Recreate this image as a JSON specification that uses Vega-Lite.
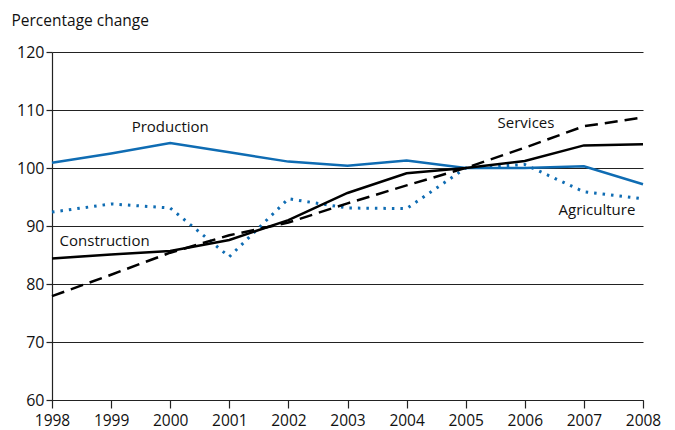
{
  "$schema": "https://vega.github.io/schema/vega-lite/v6.json",
  "width": 591,
  "height": 348,
  "autosize": {"type": "none"},
  "padding": {"left": 52, "top": 52, "right": 32, "bottom": 30},
  "background": "white",
  "config": {
    "view": {"stroke": null},
    "font": "Open Sans",
    "axis": {"labelFont": "Open Sans", "titleFont": "Open Sans", "labelColor": "#111", "titleColor": "#111"}
  },
  "datasets": {
    "series": [
      {"year": 1998, "sector": "Production", "value": 100.9},
      {"year": 1999, "sector": "Production", "value": 102.5},
      {"year": 2000, "sector": "Production", "value": 104.3},
      {"year": 2001, "sector": "Production", "value": 102.7},
      {"year": 2002, "sector": "Production", "value": 101.1},
      {"year": 2003, "sector": "Production", "value": 100.4},
      {"year": 2004, "sector": "Production", "value": 101.3},
      {"year": 2005, "sector": "Production", "value": 100.0},
      {"year": 2006, "sector": "Production", "value": 100.0},
      {"year": 2007, "sector": "Production", "value": 100.3},
      {"year": 2008, "sector": "Production", "value": 97.2},
      {"year": 1998, "sector": "Services", "value": 77.9},
      {"year": 1999, "sector": "Services", "value": 81.6},
      {"year": 2000, "sector": "Services", "value": 85.4},
      {"year": 2001, "sector": "Services", "value": 88.4},
      {"year": 2002, "sector": "Services", "value": 90.6},
      {"year": 2003, "sector": "Services", "value": 93.9},
      {"year": 2004, "sector": "Services", "value": 97.0},
      {"year": 2005, "sector": "Services", "value": 100.0},
      {"year": 2006, "sector": "Services", "value": 103.5},
      {"year": 2007, "sector": "Services", "value": 107.2},
      {"year": 2008, "sector": "Services", "value": 108.7},
      {"year": 1998, "sector": "Construction", "value": 84.4},
      {"year": 1999, "sector": "Construction", "value": 85.1},
      {"year": 2000, "sector": "Construction", "value": 85.7},
      {"year": 2001, "sector": "Construction", "value": 87.6},
      {"year": 2002, "sector": "Construction", "value": 91.0},
      {"year": 2003, "sector": "Construction", "value": 95.7},
      {"year": 2004, "sector": "Construction", "value": 99.1},
      {"year": 2005, "sector": "Construction", "value": 100.0},
      {"year": 2006, "sector": "Construction", "value": 101.2},
      {"year": 2007, "sector": "Construction", "value": 103.9},
      {"year": 2008, "sector": "Construction", "value": 104.1},
      {"year": 1998, "sector": "Agriculture", "value": 92.4},
      {"year": 1999, "sector": "Agriculture", "value": 93.8},
      {"year": 2000, "sector": "Agriculture", "value": 93.1},
      {"year": 2001, "sector": "Agriculture", "value": 84.7},
      {"year": 2002, "sector": "Agriculture", "value": 94.7},
      {"year": 2003, "sector": "Agriculture", "value": 93.1},
      {"year": 2004, "sector": "Agriculture", "value": 93.0},
      {"year": 2005, "sector": "Agriculture", "value": 100.0},
      {"year": 2006, "sector": "Agriculture", "value": 100.6},
      {"year": 2007, "sector": "Agriculture", "value": 95.9},
      {"year": 2008, "sector": "Agriculture", "value": 94.7}
    ],
    "labels": [
      {"year": 2000.0, "value": 107.0, "text": "Production"},
      {"year": 2006.02, "value": 107.7, "text": "Services"},
      {"year": 2007.22, "value": 92.7, "text": "Agriculture"},
      {"year": 1998.89, "value": 87.5, "text": "Construction"}
    ]
  },
  "layer": [
    {
      "data": {"name": "series"},
      "transform": [{"filter": "datum.sector === 'Production'"}],
      "mark": {"type": "line", "color": "#0f6cb3", "strokeWidth": 2.5},
      "encoding": {
        "x": {
          "field": "year", "type": "quantitative",
          "scale": {"domain": [1998, 2008], "nice": false, "zero": false},
          "axis": {
            "title": null, "format": "d", "values": [1998,1999,2000,2001,2002,2003,2004,2005,2006,2007,2008],
            "labelOverlap": false,
            "grid": false, "domain": true, "domainColor": "#222", "domainWidth": 1.2,
            "tickColor": "#222", "tickSize": 8, "tickWidth": 1.2,
            "labelFontSize": 15.5, "labelPadding": 5, "labelFlush": false
          }
        },
        "y": {
          "field": "value", "type": "quantitative",
          "scale": {"domain": [60, 120], "nice": false, "zero": false},
          "axis": {
            "title": "Percentage change", "titleAngle": 0, "titleAlign": "left", "titleBaseline": "bottom",
            "titleX": -41, "titleY": -24, "titleFontSize": 15.5, "titleFontWeight": "normal",
            "values": [60, 70, 80, 90, 100, 110, 120],
            "labelOverlap": false,
            "grid": true, "gridColor": "#222", "gridWidth": 1.2, "gridOpacity": 1,
            "domain": true, "domainColor": "#222", "domainWidth": 1.2,
            "tickColor": "#222", "tickSize": 6, "tickWidth": 1.2,
            "labelFontSize": 16, "labelPadding": 2
          }
        }
      }
    },
    {
      "data": {"name": "series"},
      "transform": [{"filter": "datum.sector === 'Agriculture'"}],
      "mark": {"type": "line", "color": "#0f6cb3", "strokeWidth": 3, "strokeDash": [2.5, 6]},
      "encoding": {
        "x": {"field": "year", "type": "quantitative"},
        "y": {"field": "value", "type": "quantitative"}
      }
    },
    {
      "data": {"name": "series"},
      "transform": [{"filter": "datum.sector === 'Services'"}],
      "mark": {"type": "line", "color": "#000", "strokeWidth": 2.5, "strokeDash": [13, 7]},
      "encoding": {
        "x": {"field": "year", "type": "quantitative"},
        "y": {"field": "value", "type": "quantitative"}
      }
    },
    {
      "data": {"name": "series"},
      "transform": [{"filter": "datum.sector === 'Construction'"}],
      "mark": {"type": "line", "color": "#000", "strokeWidth": 2.5},
      "encoding": {
        "x": {"field": "year", "type": "quantitative"},
        "y": {"field": "value", "type": "quantitative"}
      }
    },
    {
      "data": {"name": "labels"},
      "mark": {"type": "text", "fontSize": 15, "color": "#111", "align": "center", "baseline": "middle", "font": "Open Sans"},
      "encoding": {
        "x": {"field": "year", "type": "quantitative"},
        "y": {"field": "value", "type": "quantitative"},
        "text": {"field": "text"}
      }
    }
  ]
}
